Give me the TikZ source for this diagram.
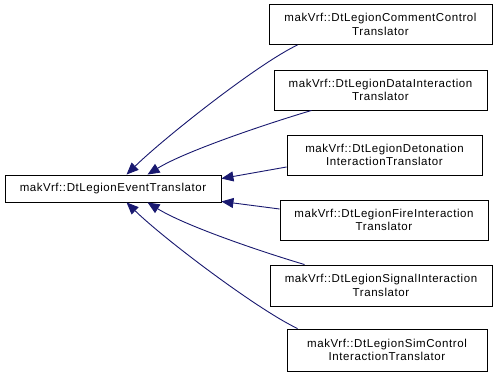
\documentclass[tikz,border=0pt]{standalone}
\usepackage{fontspec}
\setmainfont{Liberation Sans}
\newfontfamily\doxfont[LetterSpace=5]{Liberation Sans}
\usetikzlibrary{arrows.meta,calc}
\definecolor{edgeblue}{HTML}{191970}
\begin{document}
\begin{tikzpicture}[x=1pt,y=1pt,
  cls/.style={draw=black,line width=0.9pt,fill=white,align=center,inner sep=0pt,
    font=\doxfont\fontsize{11.5}{13.3}\selectfont,minimum height=40pt},
  edge/.style={draw=edgeblue,line width=0.9pt,-{Triangle[length=12pt,width=10pt]}}]
\useasboundingbox (0,0) rectangle (499,377);
\fill[white] (0,0) rectangle (499,377);
% base
\node[cls,minimum width=216pt,minimum height=27pt] (base) at (113,188.5) {makVrf::DtLegionEventTranslator};
% derived
\node[cls,minimum width=223pt] (c1) at (380.5,352.5) {makVrf::DtLegionCommentControl\\Translator};
\node[cls,minimum width=213pt] (c2) at (380.5,287) {makVrf::DtLegionDataInteraction\\Translator};
\node[cls,minimum width=195pt] (c3) at (384.5,222) {makVrf::DtLegionDetonation\\InteractionTranslator};
\node[cls,minimum width=208pt] (c4) at (384,157) {makVrf::DtLegionFireInteraction\\Translator};
\node[cls,minimum width=222pt,minimum height=41pt] (c5) at (381,91.5) {makVrf::DtLegionSignalInteraction\\Translator};
\node[cls,minimum width=200pt,minimum height=42pt] (c6) at (387,27) {makVrf::DtLegionSimControl\\InteractionTranslator};
% edges
\draw[edge] ($(c1.south west)+(29,0)$) .. controls +(-40,-19) and +(38,37) .. ($(base.north west)+(122,0)$);
\draw[edge] ($(c2.south west)+(38,0)$) .. controls +(-47,-14) and +(37,23) .. ($(base.north west)+(143,0)$);
\draw[edge] ($(c3.west)+(0,-12)$) -- ($(base.north east)+(0,-4)$);
\draw[edge] ($(c4.west)+(0,11)$) -- ($(base.south east)+(0,1)$);
\draw[edge] ($(c5.north west)+(35,0)$) .. controls +(-47,14) and +(37,-23) .. ($(base.south west)+(143,0)$);
\draw[edge] ($(c6.north west)+(11,0)$) .. controls +(-40,19) and +(38,-37) .. ($(base.south west)+(122,0)$);
\end{tikzpicture}
\end{document}
